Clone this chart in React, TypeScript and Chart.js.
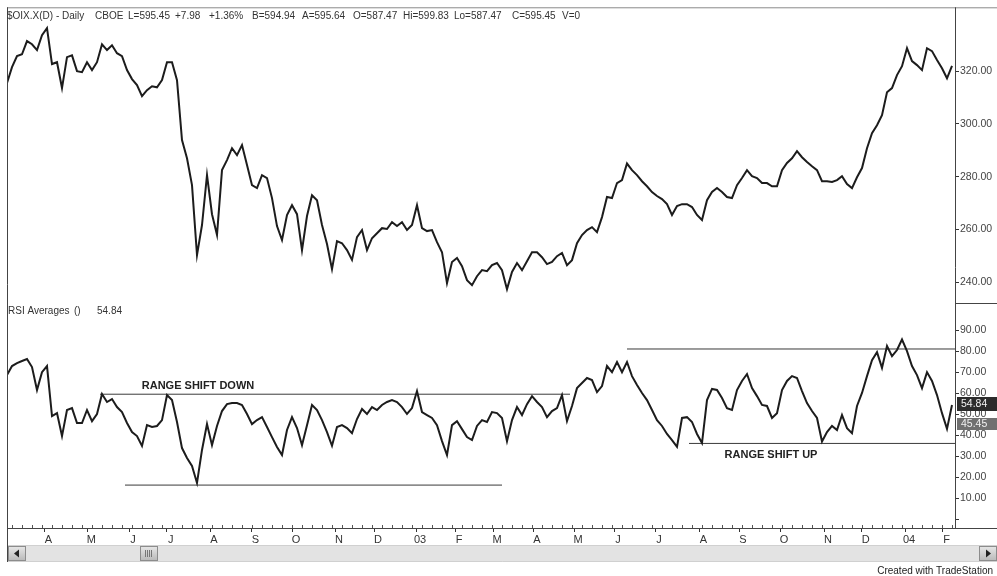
import React, { useEffect, useRef } from 'react';
import { Chart, registerables } from 'chart.js';

Chart.register(...registerables);

// ---- Data (one value every ~5 px / ~2.5 trading days) ----
const priceValues = [
  315.5, 321.5, 325.7, 326.4, 331.4, 330.2, 328, 333.6, 336.3, 322.7,
  323.4, 313.6, 325.3, 326, 320, 319.6, 323.4, 320.4, 323.4, 330.2,
  328, 329.8, 326.8, 325.7, 320.4, 317, 314.7, 310.5, 312.8, 314.3,
  313.9, 316.6, 323.4, 323.4, 316.6, 293.9, 287, 276.8, 250.3, 261.7,
  280.6, 265.8, 258, 282.5, 286.3, 290.8, 288.2, 292, 284.4, 276.8,
  275.7, 280.6, 279.5, 271.9, 261.3, 256, 265.5, 269.2, 265.8, 252.2,
  265.1, 273, 271.1, 261.7, 254.5, 245, 255.6, 254.8, 252.2, 248.5,
  257.1, 259.8, 252.2, 256.7, 258.6, 260.5, 260.2, 262.8, 261.3, 262.8,
  259.8, 261.7, 269.2, 260.5, 259.4, 259.8, 255.2, 251.4, 239.7, 247.7,
  249.2, 246.1, 240.8, 238.9, 242.3, 244.6, 244.2, 246.5, 247.3, 244.6,
  237.4, 243.9, 247.3, 244.6, 248, 251.4, 251.4, 249.5, 246.9, 247.7,
  249.9, 251.1, 246.5, 248.4, 254.8, 257.9, 259.8, 260.9, 259, 264.7,
  272.3, 271.9, 277.6, 278.7, 285, 282.5, 280.6, 278.3, 276.4, 274.2,
  272.7, 271.5, 269.6, 265.5, 268.9, 269.6, 269.6, 268.5, 265.5, 263.6,
  271.1, 274.2, 275.7, 274.2, 272.3, 271.9, 276.8, 279.5, 282.5, 280.2,
  279.5, 277.6, 277.6, 276.4, 276.4, 282.5, 285.2, 287, 289.7, 287.4,
  285.6, 284, 282.5, 278.3, 278.3, 278, 278.7, 280.2, 277.2, 275.7,
  279.8, 283.3, 290.8, 296.5, 299.5, 303.3, 312, 313.6, 318.5, 321.9,
  328.7, 323.8, 322.3, 320.4, 328.7, 327.6, 324.2, 321.1, 317.3, 322,
];

const rsiValues = [
  68.6, 72.9, 74.3, 75.3, 76.2, 72.4, 61.5, 70, 72.9, 49.1,
  50.5, 39.6, 52, 52.9, 45.8, 45.8, 52, 46.7, 50.1, 59.6,
  55.8, 57.2, 53.4, 51, 45.8, 41.5, 39.6, 34.9, 44.8, 43.9,
  44.4, 47.2, 59.1, 56.7, 46.3, 33.9, 29.2, 25.4, 17.3, 33,
  45.3, 35.3, 44.4, 51.5, 54.8, 55.3, 55.3, 54.4, 50.1, 45.3,
  47.2, 48.6, 43.9, 39.1, 34.4, 30.6, 42.5, 48.6, 43.4, 35.3,
  44.8, 54.4, 52, 47.2, 41.5, 35, 43.9, 44.8, 43.4, 41,
  47.7, 52.5, 50.1, 53.4, 52, 54.4, 55.8, 56.7, 55.8, 53.4,
  50.1, 52.9, 61, 51, 49.6, 48.2, 44.8, 37.2, 30.6, 44.8,
  46.7, 42.9, 39.1, 37.7, 44.4, 47.2, 46.3, 51, 50.5, 48.2,
  37.2, 47.2, 53.4, 49.6, 54.8, 58.6, 55.8, 53.4, 48.6, 51.5,
  52.9, 59.1, 46.7, 53.9, 62.4, 64.8, 67.2, 66.2, 60.5, 63.4,
  72.9, 70, 74.8, 70, 74.8, 68.1, 63.9, 60.1, 56.7, 52,
  47.2, 44.4, 40.6, 37.7, 34.5, 48.2, 48.6, 46.3, 40.6, 36.3,
  56.7, 62, 61.5, 57.7, 52.9, 52, 61.5, 65.8, 69.1, 62.4,
  58.6, 54.4, 53.9, 48.2, 50.5, 61.5, 65.8, 68.1, 67.2, 61,
  55.3, 51.5, 48.2, 37, 41.5, 44.4, 42.5, 49.6, 43.4, 41,
  53.9, 60.1, 68.1, 75.7, 79.5, 72, 82.4, 77.6, 80.5, 85.5,
  80, 72.9, 68.6, 62.4, 70, 65.8, 59.1, 50.5, 43, 54.4,
];

// Month starts along the bar index axis, and their labels
const monthTickPos = [
  7.46, 16.06, 24.4, 31.94, 40.6, 48.9, 57, 65.6, 73.4, 81.8, 89.6, 97.2,
  105.2, 113.4, 121.4, 129.6, 138.46, 146.4, 154.6, 163.4, 170.94, 179.6, 187.14,
];
const monthTickLabels = [
  'A', 'M', 'J', 'J', 'A', 'S', 'O', 'N', 'D', '03', 'F', 'M',
  'A', 'M', 'J', 'J', 'A', 'S', 'O', 'N', 'D', '04', 'F',
];

const priceTicks = [240, 260, 280, 300, 320];
const rsiTicks = [0, 10, 20, 30, 40, 50, 60, 70, 80, 90];

// Hand-drawn range lines on the RSI pane (bar index from/to, RSI level)
const rangeLineStart = [18.6, 23.6, 124, 136.4];
const rangeLineEnd = [112.6, 99, 189.6, 189.6];
const rangeLineLevel = [59.5, 16.3, 81, 36.1];

// Text notes on the RSI pane
const noteTexts = ['RANGE SHIFT DOWN', 'RANGE SHIFT UP'];
const noteIndex = [38.2, 152.8];
const noteLevel = [63.4, 30.6];

const headerItems = [
  '$OIX.X(D) - Daily', 'CBOE', 'L=595.45', '+7.98', '+1.36%', 'B=594.94',
  'A=595.64', 'O=587.47', 'Hi=599.83', 'Lo=587.47', 'C=595.45', 'V=0',
];
const rsiLegendItems = ['RSI Averages', '()', '54.84'];
const lastRsi = 54.84;
const secondRsi = 45.45;

const FONT = '"Liberation Sans", Arial, Helvetica, sans-serif';

function hline(ctx: CanvasRenderingContext2D, x1: number, x2: number, y: number) {
  ctx.beginPath();
  ctx.moveTo(x1, y);
  ctx.lineTo(x2, y);
  ctx.stroke();
}
function vline(ctx: CanvasRenderingContext2D, x: number, y1: number, y2: number) {
  ctx.beginPath();
  ctx.moveTo(x, y1);
  ctx.lineTo(x, y2);
  ctx.stroke();
}

const decorPlugin = {
  id: 'decor',
  beforeDraw(chart: any) {
    const ctx = chart.ctx as CanvasRenderingContext2D;
    ctx.save();
    ctx.fillStyle = '#ffffff';
    ctx.fillRect(0, 0, chart.width, chart.height);
    ctx.restore();
  },
  afterDraw(chart: any) {
    const ctx = chart.ctx as CanvasRenderingContext2D;
    const ca = chart.chartArea;
    const xs = chart.scales.x;
    const yR = chart.scales.yRsi;
    const W = chart.width;
    ctx.save();

    // frame lines
    ctx.lineWidth = 1;
    ctx.strokeStyle = '#8a8a8a';
    hline(ctx, ca.left, W, ca.top + 0.5);
    ctx.strokeStyle = '#444';
    vline(ctx, ca.left + 0.5, ca.top, 562);
    vline(ctx, ca.right + 0.5, ca.top, ca.bottom);
    hline(ctx, ca.left, W, ca.bottom + 0.5);
    hline(ctx, ca.right, W, Math.round(yR.top) + 0.5);

    // minor (weekly) ticks pointing up from the time axis
    ctx.strokeStyle = '#555';
    for (let v = 1; v < xs.max; v += 2) {
      const px = Math.round(xs.getPixelForValue(v)) + 0.5;
      vline(ctx, px, ca.bottom, ca.bottom - 3);
    }

    // header text
    ctx.fillStyle = '#333';
    ctx.textBaseline = 'middle';
    ctx.textAlign = 'left';
    ctx.font = `10px ${FONT}`;
    const headerX = [7, 95, 128, 175, 209, 252, 302, 353, 403, 454, 512, 562];
    headerItems.forEach((t, i) => ctx.fillText(t, headerX[i], 16));
    const legendX = [8, 74, 97];
    rsiLegendItems.forEach((t, i) => ctx.fillText(t, legendX[i], Math.round(yR.top) + 8));

    // notes
    ctx.font = `bold 11px ${FONT}`;
    ctx.fillStyle = '#222';
    ctx.textAlign = 'center';
    noteTexts.forEach((t, i) => {
      ctx.fillText(t, xs.getPixelForValue(noteIndex[i]), yR.getPixelForValue(noteLevel[i]));
    });

    // value boxes on RSI axis
    ctx.font = `10.5px ${FONT}`;
    ctx.textAlign = 'left';
    const boxes: [number, string, number][] = [
      [lastRsi, '#2c2c2c', 14],
      [secondRsi, '#707070', 12],
    ];
    boxes.forEach(([v, col, h]) => {
      const py = yR.getPixelForValue(v);
      ctx.fillStyle = col;
      ctx.fillRect(ca.right + 2, Math.round(py - h / 2), W - ca.right - 2, h);
      ctx.fillStyle = '#f2f2f2';
      ctx.fillText(v.toFixed(2), ca.right + 6, py + 0.5);
    });

    // scrollbar
    const sTop = 545;
    const sH = 17;
    ctx.fillStyle = '#e3e3e3';
    ctx.fillRect(ca.left + 1, sTop, W - ca.left - 1, sH);
    ctx.strokeStyle = '#d0d0d0';
    hline(ctx, ca.left + 1, W, sTop + 0.5);
    hline(ctx, ca.left + 1, W, sTop + sH - 0.5);
    const btn = (x: number, w: number) => {
      const g = ctx.createLinearGradient(0, sTop + 1, 0, sTop + sH - 1);
      g.addColorStop(0, '#e8e8e8');
      g.addColorStop(1, '#b8b8b8');
      ctx.fillStyle = g;
      ctx.fillRect(x, sTop + 1, w, sH - 2);
      ctx.strokeStyle = '#8c8c8c';
      ctx.strokeRect(x + 0.5, sTop + 1.5, w - 1, sH - 3);
    };
    btn(ca.left + 1, 18);
    btn(W - 18, 18);
    btn(140, 18);
    // arrows
    ctx.fillStyle = '#222';
    ctx.beginPath();
    ctx.moveTo(ca.left + 7, sTop + 8.5);
    ctx.lineTo(ca.left + 12, sTop + 4.5);
    ctx.lineTo(ca.left + 12, sTop + 12.5);
    ctx.closePath();
    ctx.fill();
    ctx.beginPath();
    ctx.moveTo(W - 6, sTop + 8.5);
    ctx.lineTo(W - 11, sTop + 4.5);
    ctx.lineTo(W - 11, sTop + 12.5);
    ctx.closePath();
    ctx.fill();
    // thumb grip
    ctx.strokeStyle = '#777';
    for (let k = 0; k < 4; k++) vline(ctx, 145.5 + k * 2, sTop + 5, sTop + 12);

    // credit
    ctx.font = `10px ${FONT}`;
    ctx.fillStyle = '#222';
    ctx.textAlign = 'right';
    ctx.fillText('Created with TradeStation', 993, 571);

    ctx.restore();
  },
};

export default function App() {
  const canvasRef = useRef<HTMLCanvasElement | null>(null);

  useEffect(() => {
    const canvas = canvasRef.current;
    if (!canvas) return;
    const lineData = (vals: number[]) => vals.map((v, i) => ({ x: i, y: v }));
    const rangeSets = rangeLineLevel.map((lvl, k) => ({
      label: `range${k}`,
      data: [
        { x: rangeLineStart[k], y: lvl },
        { x: rangeLineEnd[k], y: lvl },
      ],
      yAxisID: 'yRsi',
      borderColor: '#3a3a3a',
      borderWidth: 1,
      pointRadius: 0,
      tension: 0,
    }));

    const tickFont = { family: FONT, size: 10.5 };
    const chart = new Chart(canvas, {
      type: 'line',
      data: {
        datasets: [
          {
            label: 'Price',
            data: lineData(priceValues),
            yAxisID: 'yPrice',
            borderColor: '#1c1c1c',
            borderWidth: 2,
            pointRadius: 0,
            tension: 0,
          },
          {
            label: 'RSI',
            data: lineData(rsiValues),
            yAxisID: 'yRsi',
            borderColor: '#1c1c1c',
            borderWidth: 2,
            pointRadius: 0,
            tension: 0,
          },
          ...rangeSets,
        ],
      },
      options: {
        responsive: false,
        animation: false,
        events: [],
        layout: { padding: { left: 7, top: 7, right: 0, bottom: 0 } },
        plugins: { legend: { display: false }, tooltip: { enabled: false } },
        scales: {
          x: {
            type: 'linear',
            min: 0,
            max: 189.6,
            afterBuildTicks: (s: any) => {
              s.ticks = monthTickPos.map((v) => ({ value: v }));
            },
            afterFit: (s: any) => {
              s.height = 48;
            },
            grid: { display: true, drawOnChartArea: false, drawTicks: true, tickLength: 4, color: '#333' },
            border: { display: false },
            ticks: {
              autoSkip: false,
              maxRotation: 0,
              labelOffset: 4,
              padding: 1,
              color: '#333',
              font: { family: FONT, size: 11 },
              callback: (_v: any, i: number) => monthTickLabels[i],
            },
          },
          yPrice: {
            type: 'linear',
            position: 'right',
            stack: 'panes',
            stackWeight: 296,
            min: 232.1,
            max: 344.2,
            afterBuildTicks: (s: any) => {
              s.ticks = priceTicks.map((v) => ({ value: v }));
            },
            afterFit: (s: any) => {
              s.width = 42;
            },
            grid: { display: true, drawOnChartArea: false, drawTicks: true, tickLength: 4, color: '#333' },
            border: { display: false },
            ticks: {
              autoSkip: false,
              padding: 1,
              color: '#444',
              font: tickFont,
              callback: (v: any) => Number(v).toFixed(2),
            },
          },
          yRsi: {
            type: 'linear',
            position: 'right',
            stack: 'panes',
            stackWeight: 225,
            min: -4.1,
            max: 102.8,
            afterBuildTicks: (s: any) => {
              s.ticks = rsiTicks.map((v) => ({ value: v }));
            },
            afterFit: (s: any) => {
              s.width = 42;
            },
            grid: { display: true, drawOnChartArea: false, drawTicks: true, tickLength: 4, color: '#333' },
            border: { display: false },
            ticks: {
              autoSkip: false,
              padding: 1,
              color: '#444',
              font: tickFont,
              callback: (v: any) => (Number(v) === 0 ? '' : Number(v).toFixed(2)),
            },
          },
        },
      } as any,
      plugins: [decorPlugin],
    });
    return () => chart.destroy();
  }, []);

  return (
    <div style={{ position: 'fixed', left: 0, top: 0, width: 997, height: 576, background: '#fff' }}>
      <canvas ref={canvasRef} width={997} height={576} style={{ display: 'block', width: 997, height: 576 }} />
    </div>
  );
}
